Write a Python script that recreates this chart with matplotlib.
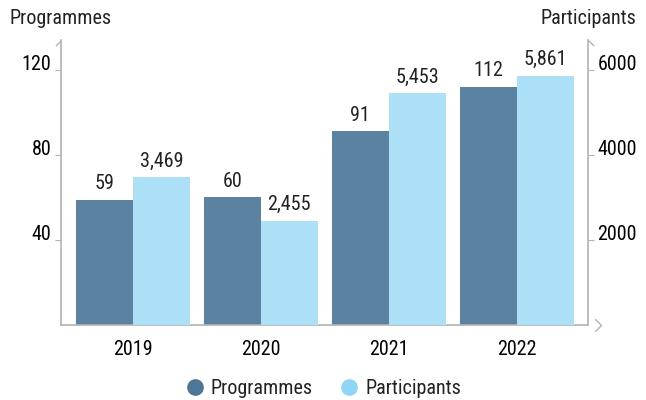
import matplotlib.pyplot as plt
import matplotlib.transforms as mtransforms
import numpy as np

years = ['2019', '2020', '2021', '2022']
programmes = [59, 60, 91, 112]
participants = [3469, 2455, 5453, 5861]
prog_ticks = [40, 80, 120]
part_ticks = [2000, 4000, 6000]

dark = '#5b82a1'
light = '#abe0f7'
axis_col = '#b3b3b3'

plt.rcParams['font.family'] = ['Roboto Condensed', 'Archivo Narrow', 'DejaVu Sans']
plt.rcParams['text.color'] = '#222222'
fs = 14.5

fig = plt.figure(figsize=(6.46, 4.0), dpi=100)
ax = fig.add_axes([0.0944, 0.1875, 0.8156, 0.7125])
ax2 = ax.twinx()

x = np.arange(len(years))
w = 0.445
b1 = ax.bar(x - w / 2, programmes, w, color=dark, label='Programmes')
b2 = ax2.bar(x + w / 2, participants, w, color=light, label='Participants')

ax.set_xlim(-0.5625, 3.555)
ax.set_ylim(0, 134)
ax2.set_ylim(0, 6700)

for r, v in zip(b1, programmes):
    ax.text(r.get_x() + r.get_width() / 2, v + 3, f'{v:,}', ha='center', va='bottom', fontsize=fs)
for r, v in zip(b2, participants):
    ax2.text(r.get_x() + r.get_width() / 2, v + 150, f'{v:,}', ha='center', va='bottom', fontsize=fs)

ax.set_yticks(prog_ticks)
ax2.set_yticks(part_ticks)
ax.set_xticks(x)
ax.set_xticklabels(years)

for a in (ax, ax2):
    for s in a.spines.values():
        s.set_color(axis_col)
        s.set_linewidth(1.2)
    a.spines['top'].set_visible(False)
ax.spines['right'].set_visible(False)
ax2.spines['left'].set_visible(False)
ax2.spines['bottom'].set_visible(False)

ax.tick_params(axis='y', length=4, color=axis_col, labelsize=fs, pad=3)
ax2.tick_params(axis='y', length=4, color=axis_col, labelsize=fs, pad=3)
ax.tick_params(axis='x', length=0, labelsize=fs, pad=11)
# labels sit a little above their ticks
up = mtransforms.ScaledTranslation(0, 5 / 72, fig.dpi_scale_trans)
for lab in ax.get_yticklabels() + ax2.get_yticklabels():
    lab.set_transform(lab.get_transform() + up)

# arrow tips on the axes
ax.plot([1.025], [0], transform=ax.transAxes, marker=[(-1, 1), (0, 0), (-1, -1)],
        markersize=9, markerfacecolor='none', markeredgecolor=axis_col, clip_on=False)
ax.plot([0], [1], transform=ax.transAxes, marker=[(0, 0), (-1, -1)],
        markersize=8, markerfacecolor='none', markeredgecolor=axis_col, clip_on=False)
ax.plot([1], [1], transform=ax.transAxes, marker=[(0, 0), (1, -1)],
        markersize=8, markerfacecolor='none', markeredgecolor=axis_col, clip_on=False)

fig.text(0.015, 0.953, 'Programmes', fontsize=fs, ha='left', va='center')
fig.text(0.985, 0.953, 'Participants', fontsize=fs, ha='right', va='center')

handles = [plt.Line2D([], [], marker='o', linestyle='', markersize=11, color='#4e7696'),
           plt.Line2D([], [], marker='o', linestyle='', markersize=11, color='#8fd5f4')]
fig.legend(handles, ['Programmes', 'Participants'], loc='center', bbox_to_anchor=(0.5, 0.028),
           ncol=2, frameon=False, fontsize=fs, handlelength=1.0, handletextpad=0.3,
           columnspacing=1.3)

fig.savefig('out.png', dpi=100)
